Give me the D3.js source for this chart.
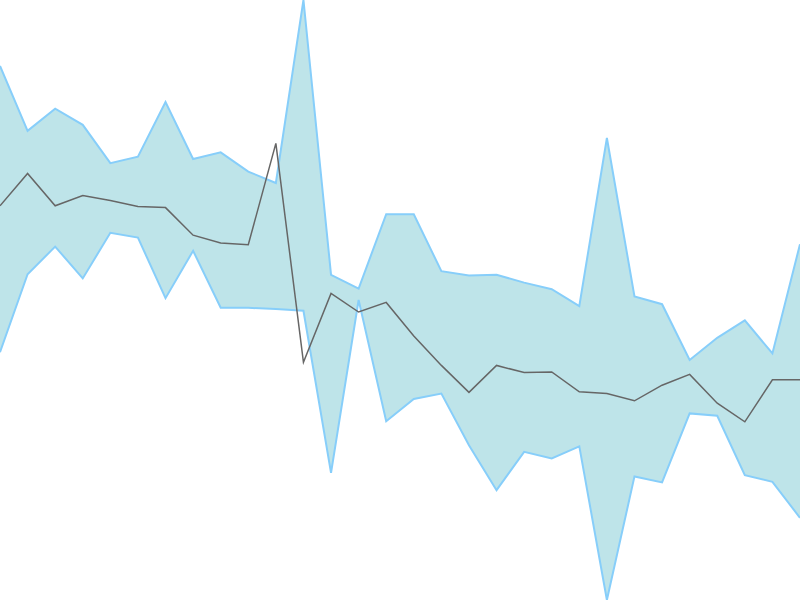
<!DOCTYPE html>
<html>
  <head>
    <meta charset="utf-8" />
    <style>
      body { margin: 0; background: #fff; }
    </style>
  </head>
  <body>

<svg id="graph"></svg>

<script src="https://d3js.org/d3.v7.min.js"></script>
<script>
  const WIDTH = 800;
  const HEIGHT = 600;

  // one value per step, 30 steps
  const UPPER = [89.0, 78.2, 81.9, 79.2, 72.8, 73.9, 83.0, 73.5, 74.6, 71.4,
                 69.5, 100, 54.2, 51.9, 64.3, 64.3, 54.8, 54.1, 54.2, 52.9,
                 51.8, 49.0, 77.0, 50.6, 49.3, 40.0, 43.7, 46.6, 41.1, 59.3];
  const LOWER = [41.3, 54.3, 58.9, 53.6, 61.2, 60.4, 50.3, 58.2, 48.7, 48.7,
                 48.5, 48.2, 21.2, 50.0, 29.8, 33.5, 34.4, 25.8, 18.3, 24.7,
                 23.6, 25.6, 0, 20.6, 19.6, 31.1, 30.7, 20.8, 19.7, 13.7];
  const MIDDLE = [65.7, 71.1, 65.7, 67.4, 66.6, 65.6, 65.4, 60.8, 59.5, 59.2,
                  76.1, 39.6, 51.1, 48.0, 49.6, 44.0, 39.1, 34.6, 39.1, 37.9,
                  38.0, 34.7, 34.4, 33.2, 35.8, 37.6, 32.8, 29.7, 36.7, 36.7];

  const svg = d3.select('#graph')
    .attr('width', WIDTH)
    .attr('height', HEIGHT)
    .style('display', 'block');

  const x = d3.scaleLinear()
    .domain([0, MIDDLE.length - 1])
    .range([0, WIDTH]);

  const y = d3.scaleLinear()
    .domain([d3.min(LOWER), d3.max(UPPER)])
    .range([HEIGHT, 0]);

  const idx = d3.range(MIDDLE.length);

  const area = d3.area()
    .x(i => x(i))
    .y0(i => y(LOWER[i]))
    .y1(i => y(UPPER[i]));

  svg.append('path')
    .datum(idx)
    .attr('d', area)
    .attr('fill', '#bee4e9');

  // bords de la bande
  [UPPER, LOWER].forEach(serie => {
    svg.append('path')
      .datum(idx)
      .attr('d', d3.line().x(i => x(i)).y(i => y(serie[i])))
      .attr('fill', 'none')
      .attr('stroke', '#87cefa')
      .attr('stroke-width', 2);
  });

  svg.append('path')
    .datum(idx)
    .attr('d', d3.line().x(i => x(i)).y(i => y(MIDDLE[i])))
    .attr('fill', 'none')
    .attr('stroke', '#666')
    .attr('stroke-width', 1.5);
</script>
  </body>
</html>
